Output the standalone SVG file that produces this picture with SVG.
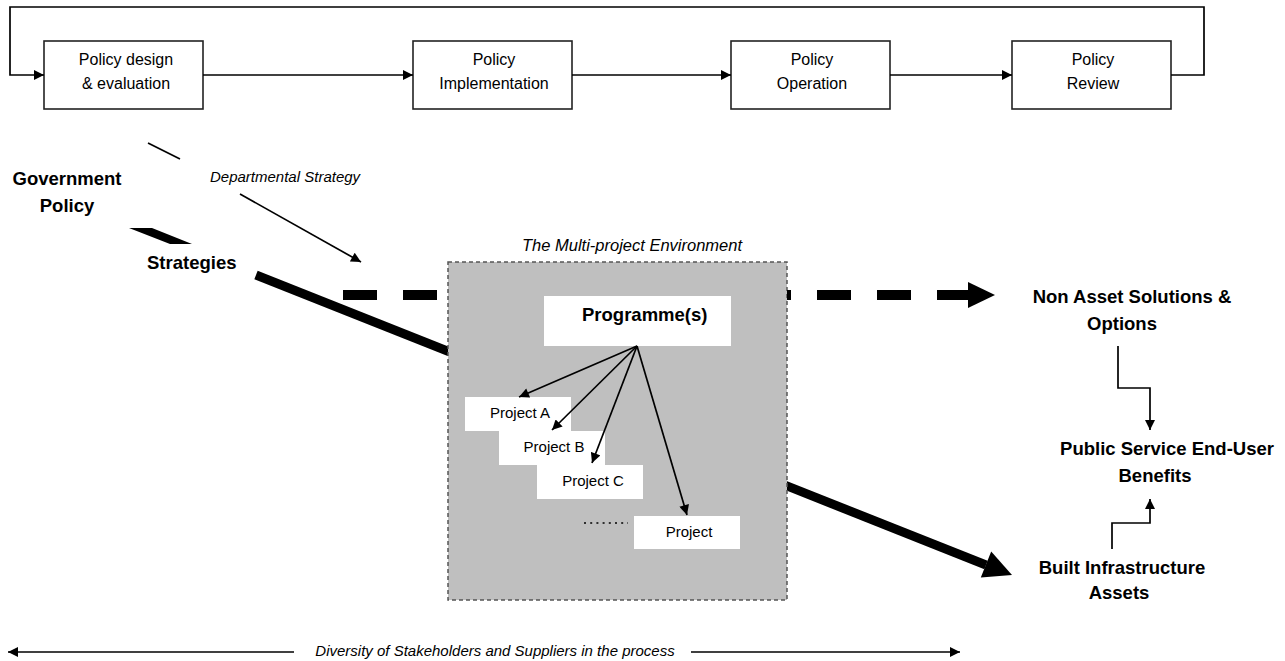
<svg xmlns="http://www.w3.org/2000/svg" width="1285" height="661" viewBox="0 0 1285 661">
  <style>
    .box { fill: #ffffff; stroke: #222222; stroke-width: 1.6; }
    .wbox { fill: #ffffff; stroke: none; }
    .t { font-family: "Liberation Sans", Arial, sans-serif; fill: #000000; }
    .reg { font-size: 16px; text-anchor: middle; }
    .bold { font-size: 18.5px; font-weight: bold; }
    .it { font-style: italic; }
    .proj { font-size: 15px; text-anchor: middle; }
    .ln { fill: none; stroke: #000000; stroke-width: 1.7; }
  </style>
  <defs>
    <marker id="ah" viewBox="0 0 10 10" refX="10" refY="5" markerWidth="11" markerHeight="10" markerUnits="userSpaceOnUse" orient="auto">
      <path d="M0,0 L10,5 L0,10 z" fill="#000000"/>
    </marker>
  </defs>

  <!-- thick background arrows (behind the environment box) -->
  <g id="connectors-back">
    <line x1="256" y1="275" x2="986" y2="565" stroke="#000000" stroke-width="9"/>
    <polygon points="1012,575 980.8,577.6 991.2,551.6" fill="#000000"/>
    <line x1="343" y1="295" x2="448" y2="295" stroke="#000000" stroke-width="10" stroke-dasharray="34 26"/>
    <line x1="757" y1="295" x2="969" y2="295" stroke="#000000" stroke-width="10" stroke-dasharray="34 26"/>
    <polygon points="968,282 995,295 968,308" fill="#000000"/>
  </g>

  <!-- Top process row -->
  <g id="node-policy-design">
    <rect class="box" x="44" y="41" width="159" height="68"/>
    <text class="t reg" x="126" y="65">Policy design</text>
    <text class="t reg" x="126" y="89">&amp; evaluation</text>
  </g>
  <g id="node-policy-implementation">
    <rect class="box" x="413" y="41" width="159" height="68"/>
    <text class="t reg" x="494" y="65">Policy</text>
    <text class="t reg" x="494" y="89">Implementation</text>
  </g>
  <g id="node-policy-operation">
    <rect class="box" x="731" y="41" width="159" height="68"/>
    <text class="t reg" x="812" y="65">Policy</text>
    <text class="t reg" x="812" y="89">Operation</text>
  </g>
  <g id="node-policy-review">
    <rect class="box" x="1012" y="41" width="159" height="68"/>
    <text class="t reg" x="1093" y="65">Policy</text>
    <text class="t reg" x="1093" y="89">Review</text>
  </g>

  <!-- Left labels -->
  <g id="node-government-policy">
    <text class="t bold" x="67" y="185" text-anchor="middle">Government</text>
    <text class="t bold" x="67" y="212" text-anchor="middle">Policy</text>
  </g>
  <g id="node-strategies">
    <polygon points="129,228 152,228 192,244 170,244" fill="#000000"/>
    <text class="t bold" x="147" y="269">Strategies</text>
  </g>
  <g id="label-departmental-strategy">
    <text class="t it" x="210" y="182" font-size="15">Departmental Strategy</text>
  </g>

  <!-- Multi-project environment -->
  <g id="node-multi-project-environment">
    <text class="t it" x="632" y="251" font-size="16.5" text-anchor="middle">The Multi-project Environment</text>
    <rect x="448" y="262" width="339" height="338" fill="#bfbfbf" stroke="#555555" stroke-width="1.5" stroke-dasharray="4 3"/>
    <line x1="787" y1="295" x2="791" y2="295" stroke="#000000" stroke-width="10"/>
  </g>
  <g id="node-programme">
    <rect class="wbox" x="544" y="296" width="187" height="50"/>
    <text class="t bold" x="582" y="321">Programme(s)</text>
  </g>
  <g id="node-project-a">
    <rect class="wbox" x="465" y="397" width="106" height="34"/>
    <text class="t proj" x="520" y="418">Project A</text>
  </g>
  <g id="node-project-b">
    <rect class="wbox" x="499" y="431" width="106" height="34"/>
    <text class="t proj" x="554" y="452">Project B</text>
  </g>
  <g id="node-project-c">
    <rect class="wbox" x="537" y="465" width="106" height="34"/>
    <text class="t proj" x="593" y="486">Project C</text>
  </g>
  <g id="node-project">
    <rect class="wbox" x="634" y="516" width="106" height="33"/>
    <text class="t proj" x="689" y="537">Project</text>
    <line x1="584" y1="523" x2="628" y2="523" stroke="#000000" stroke-width="1.6" stroke-dasharray="2 4.2"/>
  </g>

  <!-- Right labels -->
  <g id="node-non-asset">
    <text class="t bold" x="1132" y="303" text-anchor="middle" font-size="18">Non Asset Solutions &amp;</text>
    <text class="t bold" x="1122" y="330" text-anchor="middle" font-size="18">Options</text>
  </g>
  <g id="node-public-service">
    <text class="t bold" x="1167" y="455" text-anchor="middle" font-size="18">Public Service End-User</text>
    <text class="t bold" x="1155" y="482" text-anchor="middle" font-size="18">Benefits</text>
  </g>
  <g id="node-built-infrastructure">
    <text class="t bold" x="1122" y="574" text-anchor="middle" font-size="18">Built Infrastructure</text>
    <text class="t bold" x="1119" y="599" text-anchor="middle" font-size="18">Assets</text>
  </g>

  <!-- Bottom stakeholder label -->
  <g id="label-diversity">
    <text class="t it" x="495" y="656" font-size="15" text-anchor="middle">Diversity of Stakeholders and Suppliers in the process</text>
  </g>

  <!-- Connectors -->
  <g id="connectors">
    <path class="ln" d="M203,75 L413,75" marker-end="url(#ah)"/>
    <path class="ln" d="M572,75 L731,75" marker-end="url(#ah)"/>
    <path class="ln" d="M890,75 L1012,75" marker-end="url(#ah)"/>
    <path class="ln" d="M1171,75 L1204,75 L1204,7 L10,7 L10,75 L44,75" marker-end="url(#ah)"/>
    <path class="ln" d="M148,143 L180,159"/>
    <path class="ln" d="M240,194 L361,262" marker-end="url(#ah)"/>
    <path class="ln" d="M637,346 L519,397" marker-end="url(#ah)"/>
    <path class="ln" d="M637,346 L552,430" marker-end="url(#ah)"/>
    <path class="ln" d="M637,346 L592,463" marker-end="url(#ah)"/>
    <path class="ln" d="M637,346 L687,515" marker-end="url(#ah)"/>
    <path class="ln" d="M1118,346 L1118,388 L1150,388 L1150,430" marker-end="url(#ah)"/>
    <path class="ln" d="M1112,549 L1112,523 L1150,523 L1150,499" marker-end="url(#ah)"/>
    <path class="ln" d="M294,652 L8,652" marker-end="url(#ah)"/>
    <path class="ln" d="M691,652 L960,652" marker-end="url(#ah)"/>
  </g>
</svg>
